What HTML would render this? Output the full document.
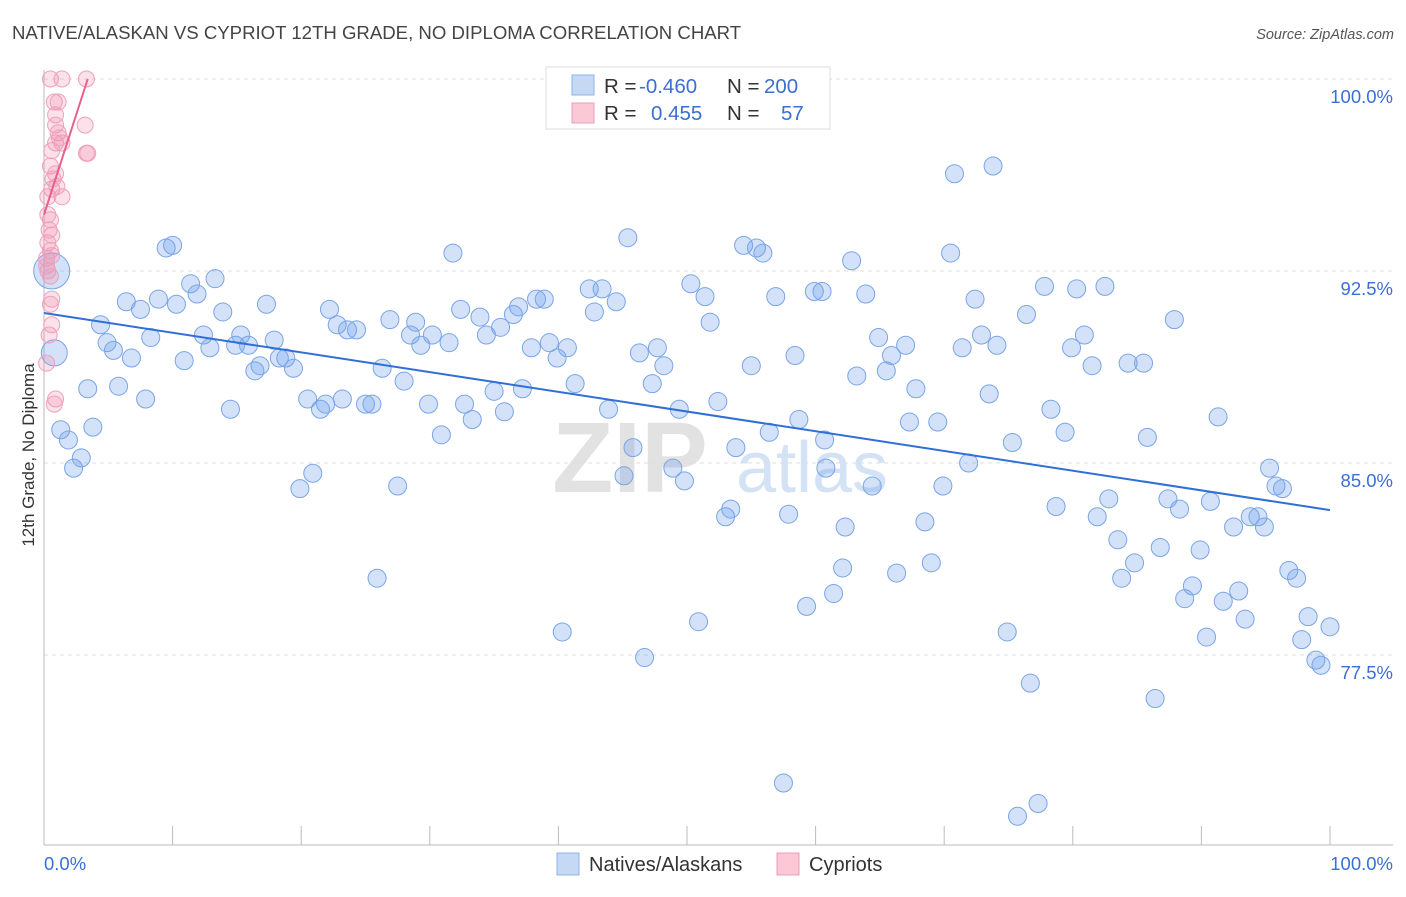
<!DOCTYPE html>
<html><head><meta charset="utf-8">
<style>
body{margin:0;background:#fff;font-family:"Liberation Sans",sans-serif;}
svg text{font-family:"Liberation Sans",sans-serif;}
</style></head>
<body>
<svg id="chart" width="1406" height="892" xmlns="http://www.w3.org/2000/svg">
<text x="12" y="39" font-size="18.6" fill="#444">NATIVE/ALASKAN VS CYPRIOT 12TH GRADE, NO DIPLOMA CORRELATION CHART</text>
<text x="1394" y="39" font-size="14.5" fill="#555" font-style="italic" text-anchor="end">Source: ZipAtlas.com</text>
<text transform="translate(34,455) rotate(-90)" font-size="17" fill="#333" text-anchor="middle">12th Grade, No Diploma</text>
<g>
<text x="630" y="492" font-size="100" fill="#e2e2e2" font-family="Liberation Serif,serif" text-anchor="middle" font-weight="bold">ZIP</text>
<text x="812" y="492" font-size="72" fill="#d3e2f4" text-anchor="middle">atlas</text>
</g>
<g id="grid"></g>
<g id="axes"></g>
<g id="marks"></g>
<g id="trends"></g>
<g>
<rect x="546" y="67" width="284" height="62" fill="#fff" stroke="#ddd"/>
<rect x="572" y="75" width="22" height="20" fill="#c5d9f5" stroke="#8fb1e6"/>
<rect x="572" y="103" width="22" height="20" fill="#fbc8d6" stroke="#ef9cb6"/>
<text x="604" y="93" font-size="20.5" fill="#333">R = </text>
<text x="639" y="93" font-size="20.5" fill="#3b6fd4">-0.460</text>
<text x="727" y="93" font-size="20.5" fill="#333">N = </text>
<text x="764" y="93" font-size="20.5" fill="#3b6fd4">200</text>
<text x="604" y="120" font-size="20.5" fill="#333">R = </text>
<text x="651" y="120" font-size="20.5" fill="#3b6fd4">0.455</text>
<text x="727" y="120" font-size="20.5" fill="#333">N = </text>
<text x="781" y="120" font-size="20.5" fill="#3b6fd4">57</text>
</g>
<g>
<rect x="557" y="853" width="22" height="22" fill="#c5d9f5" stroke="#8fb1e6"/>
<text x="589" y="871" font-size="20" fill="#333">Natives/Alaskans</text>
<rect x="777" y="853" width="22" height="22" fill="#fbc8d6" stroke="#ef9cb6"/>
<text x="809" y="871" font-size="20" fill="#333">Cypriots</text>
</g>
</svg>
<script>
const yTicks=[100,92.5,85,77.5];
const yTickLabels=["100.0%","92.5%","85.0%","77.5%"];
const xEndLabels=["0.0%","100.0%"];
const blueX=[1.3,1.9,2.3,2.9,3.4,3.8,4.4,4.9,5.4,5.8,6.4,6.8,7.5,7.9,8.3,8.9,9.5,10.0,10.3,10.9,11.4,11.9,12.4,12.9,13.3,13.9,14.5,14.9,15.3,15.9,16.4,16.8,17.3,17.9,18.3,18.8,19.4,19.9,20.5,20.9,21.5,21.9,22.2,22.8,23.2,23.6,24.3,25.0,25.5,25.9,26.3,26.9,27.5,28.0,28.5,28.9,29.3,29.9,30.2,30.9,31.5,31.8,32.4,32.7,33.3,33.9,34.4,35.0,35.5,35.8,36.5,36.9,37.2,38.3,37.9,38.9,39.3,39.9,40.3,40.7,41.3,42.4,42.8,43.4,43.9,44.5,45.1,45.4,45.8,46.3,46.7,47.3,47.7,48.2,48.9,49.4,49.8,50.3,50.9,51.4,51.8,52.4,53.0,53.4,53.8,54.4,55.0,55.4,55.9,56.4,56.9,57.5,57.9,58.4,58.7,59.3,59.9,60.5,60.7,60.8,61.4,62.1,62.3,62.8,63.2,63.9,64.4,64.9,65.5,65.9,66.3,67.0,67.3,67.8,68.5,69.0,69.5,69.9,70.5,70.8,71.4,71.9,72.4,72.9,73.5,73.8,74.1,74.9,75.3,75.7,76.4,76.7,77.3,77.8,78.3,78.7,79.4,79.9,80.3,80.9,81.5,81.9,82.5,82.8,83.5,83.8,84.3,84.8,85.5,85.8,86.4,86.8,87.4,87.9,88.3,88.7,89.3,89.9,90.4,90.7,91.3,91.7,92.5,92.9,93.4,93.8,94.4,94.9,95.3,95.8,96.3,96.8,97.4,97.8,98.3,98.9,99.3,100.0,60.1];
const blueY=[86.3,85.9,84.8,85.2,87.9,86.4,90.4,89.7,89.4,88.0,91.3,89.1,91.0,87.5,89.9,91.4,93.4,93.5,91.2,89.0,92.0,91.6,90.0,89.5,92.2,90.9,87.1,89.6,90.0,89.6,88.6,88.8,91.2,89.8,89.1,89.1,88.7,84.0,87.5,84.6,87.1,87.3,91.0,90.4,87.5,90.2,90.2,87.3,87.3,80.5,88.7,90.6,84.1,88.2,90.0,90.5,89.6,87.3,90.0,86.1,89.7,93.2,91.0,87.3,86.7,90.7,90.0,87.8,90.3,87.0,90.8,91.1,87.9,91.4,89.5,91.4,89.7,89.1,78.4,89.5,88.1,91.8,90.9,91.8,87.1,91.3,84.5,93.8,85.6,89.3,77.4,88.1,89.5,88.8,84.8,87.1,84.3,92.0,78.8,91.5,90.5,87.4,82.9,83.2,85.6,93.5,88.8,93.4,93.2,86.2,91.5,72.5,83.0,89.2,86.7,79.4,91.7,91.7,85.9,84.8,79.9,80.9,82.5,92.9,88.4,91.6,84.1,89.9,88.6,89.2,80.7,89.6,86.6,87.9,82.7,81.1,86.6,84.1,93.2,96.3,89.5,85.0,91.4,90.0,87.7,96.6,89.6,78.4,85.8,71.2,90.8,76.4,71.7,91.9,87.1,83.3,86.2,89.5,91.8,90.0,88.8,82.9,91.9,83.6,82.0,80.5,88.9,81.1,88.9,86.0,75.8,81.7,83.6,90.6,83.2,79.7,80.2,81.6,78.2,83.5,86.8,79.6,82.5,80.0,78.9,82.9,82.9,82.5,84.8,84.1,84.0,80.8,80.5,78.1,79.0,77.3,77.1,78.6,98.8];
const blueBigX=[0.6,0.8];
const blueBigY=[92.5,89.3];
const pinkX=[0.5,1.4,3.3,0.8,1.1,0.9,0.9,3.2,1.1,0.9,1.4,0.6,3.4,3.3,0.5,0.9,0.6,1.0,1.4,0.3,0.5,0.6,0.3,0.5,0.2,0.6,0.3,0.6,0.5,0.6,0.4,0.2,0.9,0.8,0.3,0.7,1.2,0.4,0.2,0.5];
const pinkY=[100,100,100,99.1,99.1,98.6,98.2,98.2,97.9,97.5,97.5,97.2,97.1,97.1,96.6,96.3,95.7,95.8,95.4,95.4,94.5,93.9,93.6,93.3,93.0,93.1,92.5,91.4,91.2,90.4,90.0,88.9,87.5,87.3,94.7,96.1,97.7,94.1,92.7,92.3];
const blueTrend=[90.86,83.16];
const pinkTrend=[94.7,100,3.4];

const NS="http://www.w3.org/2000/svg";
const X0=44,X1=1330,Ytop=79,PX=25.6;
const sx=v=>X0+(X1-X0)*v/100;
const sy=v=>Ytop+(100-v)*PX;
function mk(tag,attrs,parent){const e=document.createElementNS(NS,tag);for(const k in attrs)e.setAttribute(k,attrs[k]);parent.appendChild(e);return e;}
const grid=document.getElementById('grid'),axes=document.getElementById('axes'),marks=document.getElementById('marks'),trends=document.getElementById('trends');
yTicks.forEach((t,i)=>{
  const l=mk('line',{x1:44,x2:1393,y1:sy(t),y2:sy(t),stroke:'#ddd','stroke-dasharray':'4,4'},grid);
  
  
  const tx=mk('text',{x:1393,y:sy(t)+24,'font-size':18.5,fill:'#3b6fd4','text-anchor':'end'},axes);
  tx.textContent=yTickLabels[i];
  
  
});
const xa=mk('line',{x1:44,x2:1393,y1:845,y2:845,stroke:'#bbb'},axes);


const ya=mk('line',{x1:44,x2:44,y1:70,y2:845,stroke:'#bbb'},axes);


for(let i=1;i<=10;i++){
  const t=mk('line',{x1:sx(i*10),x2:sx(i*10),y1:826,y2:845,stroke:'#bbb'},axes);
  
  
}
const xl0=mk('text',{x:44,y:870,'font-size':18.5,fill:'#3b6fd4'},axes);xl0.textContent=xEndLabels[0];


const xl1=mk('text',{x:1393,y:870,'font-size':18.5,fill:'#3b6fd4','text-anchor':'end'},axes);xl1.textContent=xEndLabels[1];


blueX.forEach((x,i)=>{
  const c=mk('circle',{cx:sx(x),cy:sy(blueY[i]),r:9,fill:'rgba(110,160,235,0.3)',stroke:'#79a5e6','stroke-width':1},marks);
  
  
});
blueBigX.forEach((x,i)=>{
  const c=mk('circle',{cx:sx(x),cy:sy(blueBigY[i]),r:i?13:18,fill:'rgba(110,160,235,0.3)',stroke:'#79a5e6'},marks);
  
  
});
pinkX.forEach((x,i)=>{
  const c=mk('circle',{cx:sx(x),cy:sy(pinkY[i]),r:8,fill:'rgba(240,140,170,0.25)',stroke:'#f0a0bb'},marks);
  
  
});
const bt=mk('line',{x1:sx(0),y1:sy(blueTrend[0]),x2:sx(100),y2:sy(blueTrend[1]),stroke:'#2f6fd6','stroke-width':2},trends);


const pt=mk('line',{x1:sx(0),y1:sy(pinkTrend[0]),x2:sx(pinkTrend[2]),y2:sy(pinkTrend[1]),stroke:'#e8608c','stroke-width':2},trends);


</script>
</body></html>
